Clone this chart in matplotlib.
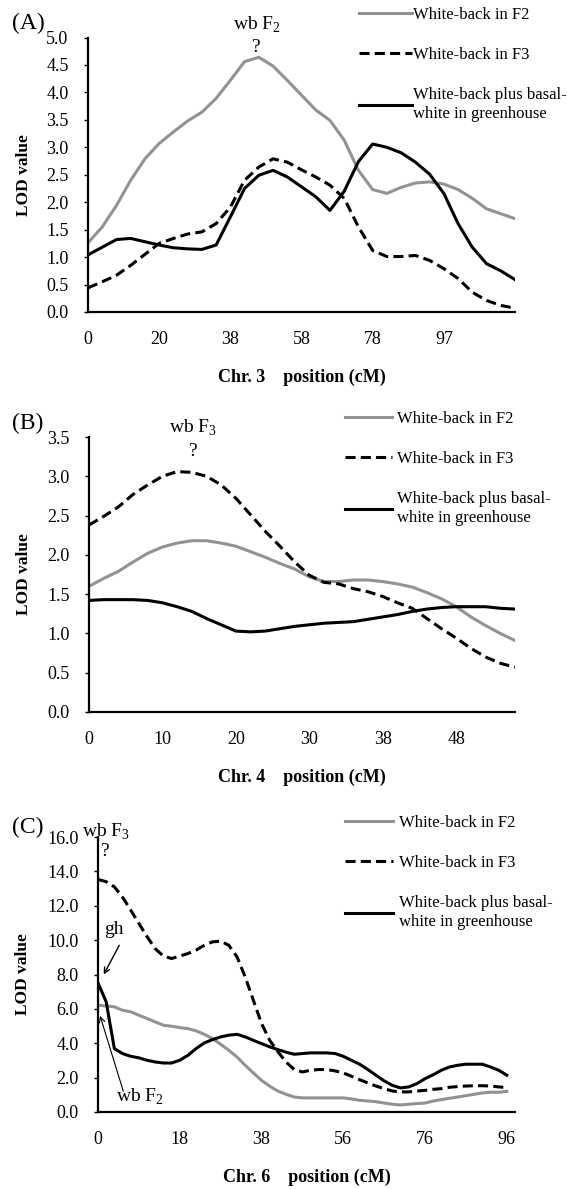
"""
LOD profiles for white-back QTL on chr. 3, 4 and 6.
"""
import numpy as np
import matplotlib
matplotlib.use("Agg")
import matplotlib.pyplot as plt

plt.rcParams['font.family'] = ['Liberation Serif', 'DejaVu Serif']
plt.rcParams['mathtext.fontset'] = 'custom'
plt.rcParams['mathtext.rm'] = 'Liberation Serif'

# ---- data (LOD values along the map, one value per marker interval) ----
# Chr. 3
ticks_A = ['0', '20', '38', '58', '78', '97']
f2_A = [1.26, 1.55, 1.94, 2.40, 2.79, 3.07, 3.28, 3.48, 3.64, 3.89, 4.22, 4.56, 4.64, 4.48, 4.22, 3.95,
        3.68, 3.49, 3.13, 2.58, 2.23, 2.16, 2.27, 2.35, 2.37, 2.33, 2.23, 2.07, 1.88, 1.79, 1.70]
f3_A = [0.44, 0.55, 0.67, 0.85, 1.05, 1.25, 1.34, 1.42, 1.46, 1.61, 1.91, 2.40, 2.64, 2.79, 2.73, 2.59,
        2.46, 2.31, 2.07, 1.55, 1.12, 1.01, 1.01, 1.03, 0.94, 0.79, 0.61, 0.36, 0.21, 0.12, 0.07]
gh_A = [1.04, 1.18, 1.32, 1.34, 1.28, 1.22, 1.17, 1.15, 1.14, 1.22, 1.73, 2.25, 2.49, 2.58, 2.46, 2.28,
        2.10, 1.85, 2.20, 2.74, 3.06, 3.00, 2.90, 2.73, 2.51, 2.16, 1.61, 1.18, 0.88, 0.75, 0.59]

# Chr. 4
ticks_B = ['0', '10', '20', '30', '38', '48']
f2_B = [1.60, 1.70, 1.79, 1.91, 2.02, 2.10, 2.15, 2.18, 2.18, 2.15, 2.11, 2.04, 1.97, 1.89, 1.82,
        1.72, 1.66, 1.66, 1.68, 1.68, 1.66, 1.63, 1.59, 1.52, 1.44, 1.34, 1.21, 1.10, 1.00, 0.91]
f3_B = [2.38, 2.49, 2.61, 2.77, 2.89, 3.00, 3.06, 3.05, 3.00, 2.89, 2.72, 2.51, 2.30, 2.11, 1.91,
        1.74, 1.65, 1.63, 1.57, 1.53, 1.47, 1.39, 1.32, 1.19, 1.06, 0.94, 0.81, 0.70, 0.62, 0.57]
gh_B = [1.42, 1.43, 1.43, 1.43, 1.42, 1.39, 1.34, 1.28, 1.19, 1.11, 1.03, 1.02, 1.03, 1.06, 1.09,
        1.11, 1.13, 1.14, 1.15, 1.18, 1.21, 1.24, 1.28, 1.31, 1.33, 1.34, 1.34, 1.34, 1.32, 1.31]

# Chr. 6
ticks_C = ['0', '18', '38', '56', '76', '96']
f2_C = [6.21, 6.17, 6.12, 5.92, 5.83, 5.63, 5.44, 5.24, 5.05, 4.99, 4.91, 4.85, 4.72, 4.52, 4.27, 3.94,
        3.59, 3.20, 2.72, 2.27, 1.84, 1.50, 1.22, 1.03, 0.87, 0.82, 0.82, 0.82, 0.82, 0.82, 0.82, 0.76,
        0.68, 0.64, 0.60, 0.52, 0.45, 0.41, 0.45, 0.49, 0.52, 0.64, 0.72, 0.80, 0.87, 0.95, 1.03, 1.11,
        1.15, 1.15, 1.20]
f3_C = [13.53, 13.40, 13.10, 12.50, 11.75, 10.97, 10.20, 9.50, 9.07, 8.93, 9.07, 9.22, 9.42, 9.70,
        9.90, 9.94, 9.70, 9.03, 7.86, 6.50, 5.15, 4.17, 3.50, 2.91, 2.47, 2.33, 2.43, 2.47, 2.47, 2.39,
        2.27, 2.08, 1.88, 1.69, 1.51, 1.36, 1.22, 1.17, 1.17, 1.22, 1.26, 1.32, 1.36, 1.44, 1.48, 1.51,
        1.53, 1.53, 1.51, 1.46, 1.42]
gh_C = [7.51, 6.41, 3.69, 3.40, 3.24, 3.15, 3.01, 2.91, 2.85, 2.85, 3.01, 3.30, 3.69, 4.02, 4.21, 4.37,
        4.47, 4.52, 4.37, 4.17, 3.98, 3.79, 3.63, 3.48, 3.36, 3.40, 3.44, 3.44, 3.44, 3.40, 3.24, 3.01,
        2.78, 2.47, 2.14, 1.81, 1.55, 1.40, 1.46, 1.65, 1.94, 2.17, 2.43, 2.62, 2.72, 2.78, 2.78, 2.78,
        2.62, 2.43, 2.14]

labels = ['White-back in F2', 'White-back in F3', 'White-back plus basal-\nwhite in greenhouse']

W, H = 567, 1189
fig = plt.figure(figsize=(W / 100, H / 100), dpi=100)


def px(x, y):
    return x / W, 1 - y / H


def rect(l, r, t, b):
    return [l / W, 1 - b / H, (r - l) / W, (b - t) / H]


panels = [
    # rect, data, ticks, tick step, xmax, ymax, ystep, chr, legend x/y, handle len, text pad, ylabel x
    (rect(88, 515, 37.5, 312), (f2_A, f3_A, gh_A), ticks_A, 5, 30, 5.0, 0.5, 'Chr. 3', (359, 7), 3.17, 0.06, -0.131),
    (rect(89, 515, 437, 712), (f2_B, f3_B, gh_B), ticks_B, 5, 29, 3.5, 0.5, 'Chr. 4', (345, 411), 2.8, 0.3, -0.134),
    (rect(98, 515, 837, 1112), (f2_C, f3_C, gh_C), ticks_C, 10, 51, 16.0, 2.0, 'Chr. 6', (345, 815), 2.9, 0.36, -0.161),
]

axes = []
for r, (f2, f3, gh), tl, step, xmax, ymax, ystep, chrom, (lx, ly), hl, htp, ylx in panels:
    ax = fig.add_axes(r)
    x = np.arange(len(f2))
    ax.plot(x, f2, color='#929292', lw=2.2, label=labels[0])
    ax.plot(x, f3, color='black', lw=2.2, ls=(0, (3.3, 1.7)), label=labels[1])
    ax.plot(x, gh, color='black', lw=2.2, label=labels[2])

    ax.set_xlim(0, xmax)
    ax.set_ylim(0, ymax)
    ax.set_xticks(np.arange(len(tl)) * step)
    ax.set_xticklabels(tl)
    yt = np.arange(0, ymax + ystep / 2, ystep)
    ax.set_yticks(yt)
    ax.set_yticklabels(['%.1f' % v for v in yt])
    ax.tick_params(axis='x', length=0, pad=14, labelsize=13)
    ax.tick_params(axis='y', length=3, width=1, direction='out', pad=11, labelsize=13)
    for s in ['top', 'right']:
        ax.spines[s].set_visible(False)
    for s in ['left', 'bottom']:
        ax.spines[s].set_linewidth(1.6)

    ax.set_ylabel('LOD value', fontweight='bold', fontsize=12.5)
    ax.yaxis.set_label_coords(ylx, 0.5)
    ax.set_xlabel(chrom + '    position (cM)', fontweight='bold', fontsize=13)
    ax.xaxis.set_label_coords(0.5, -0.205)

    leg = ax.legend(loc='upper left', bbox_to_anchor=px(lx, ly), bbox_transform=fig.transFigure,
                    frameon=False, fontsize=12, handlelength=hl, handletextpad=htp,
                    labelspacing=1.45, borderpad=0, borderaxespad=0)
    for t in leg.get_texts():
        t.set_linespacing(1.25)
    axes.append(ax)

# panel letters
for s, y in [('(A)', 23), ('(B)', 423), ('(C)', 827)]:
    fig.text(*px(12, y), s, fontsize=17, ha='left', va='center')

# QTL marks
fig.text(*px(257, 25), 'wb F$_2$', fontsize=14, ha='center', va='center')
fig.text(*px(256, 47), '?', fontsize=14, ha='center', va='center')
fig.text(*px(193, 428), 'wb F$_3$', fontsize=14, ha='center', va='center')
fig.text(*px(193, 451), '?', fontsize=14, ha='center', va='center')
fig.text(*px(106, 832), 'wb F$_3$', fontsize=14, ha='center', va='center')
fig.text(*px(105, 852), '?', fontsize=14, ha='center', va='center')

axC = axes[2]
axC.text(2.0, 10.6, 'gh', fontsize=14, ha='center', va='center')
axC.annotate('', xy=(0.7, 8.0), xytext=(2.6, 9.7),
             arrowprops=dict(arrowstyle='->', lw=1.0, color='black', shrinkA=0, shrinkB=0))
axC.text(5.1, 0.87, 'wb F$_2$', fontsize=14, ha='center', va='center')
axC.annotate('', xy=(0.25, 5.6), xytext=(3.1, 1.2),
             arrowprops=dict(arrowstyle='->', lw=0.8, color='black', shrinkA=0, shrinkB=0))

fig.savefig('out.png', dpi=100)
